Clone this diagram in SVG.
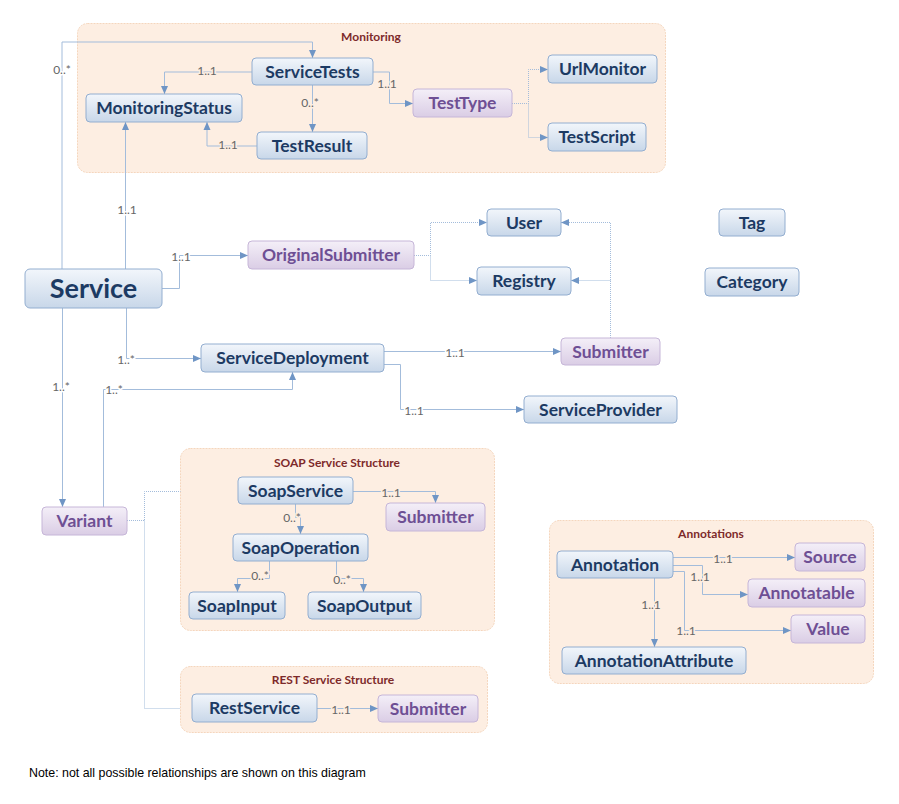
<svg xmlns="http://www.w3.org/2000/svg" width="899" height="804" viewBox="0 0 899 804">
<defs>
<linearGradient id="gb" x1="0" y1="0" x2="0" y2="1">
<stop offset="0" stop-color="#f2f6fb"/>
<stop offset="1" stop-color="#c8d7e9"/>
</linearGradient>
<linearGradient id="gp" x1="0" y1="0" x2="0" y2="1">
<stop offset="0" stop-color="#f4eff8"/>
<stop offset="1" stop-color="#dacde5"/>
</linearGradient>
<marker id="ar" viewBox="0 0 8 8" refX="8" refY="4" markerWidth="8" markerHeight="8" markerUnits="userSpaceOnUse" orient="auto">
<path d="M0,0.5 L8,4 L0,7.5 Z" fill="#6f95c5"/>
</marker>
</defs>
<style>
.cont{fill:#fdeee2;stroke:#f5d6bd;stroke-width:1;stroke-dasharray:2,1}
.ctitle{font-family:Lato,"Open Sans",sans-serif;font-size:12px;font-weight:bold;fill:#7d2a2a;text-anchor:middle}
.nb{fill:url(#gb);stroke:#93aed0;stroke-width:1}
.np{fill:url(#gp);stroke:#c6b6d8;stroke-width:1}
.tb{font-family:Lato,"Open Sans",sans-serif;font-size:17.5px;font-weight:bold;fill:#1c3a63;text-anchor:middle}
.tp{font-family:Lato,"Open Sans",sans-serif;font-size:17.5px;font-weight:bold;fill:#6e4f94;text-anchor:middle}
.big{font-size:27px}
.c{fill:none;stroke:#a3bcdb;stroke-width:1}
.d{fill:none;stroke:#a3bcdb;stroke-width:1;stroke-dasharray:1,1}
.a{marker-end:url(#ar)}
.lw{font-family:Lato,"Open Sans",sans-serif;font-size:12px;fill:#666666;text-anchor:middle;stroke:#ffffff;stroke-width:3;paint-order:stroke;stroke-linejoin:round}
.lp{font-family:Lato,"Open Sans",sans-serif;font-size:12px;fill:#666666;text-anchor:middle;stroke:#fdeee2;stroke-width:3;paint-order:stroke;stroke-linejoin:round}
.note{font-family:"Liberation Sans",Arial,sans-serif;font-size:12.4px;fill:#000000}
</style>
<rect width="899" height="804" fill="#ffffff"/>

<g id="containers">
<g id="monitoring"><rect class="cont" x="77.5" y="23.5" width="588" height="149" rx="10"/><text class="ctitle" x="371" y="41">Monitoring</text></g>
<g id="soap-structure"><rect class="cont" x="180.5" y="448.5" width="314" height="182" rx="10"/><text class="ctitle" x="337" y="467">SOAP Service Structure</text></g>
<g id="rest-structure"><rect class="cont" x="180.5" y="666.5" width="307" height="66" rx="10"/><text class="ctitle" x="333" y="684">REST Service Structure</text></g>
<g id="annotations"><rect class="cont" x="549.5" y="520.5" width="324" height="163" rx="10"/><text class="ctitle" x="711" y="538">Annotations</text></g>
</g>

<g id="connectors">
<path class="c a" d="M62,269 V42 H312.5 V58"/>
<path class="c a" d="M252,72 H164.5 V94"/>
<path class="c a" d="M312.5,85 V132"/>
<path class="c a" d="M257,146 H207 V122"/>
<path class="c a" d="M373,72 H389.5 V103.5 H413"/>
<path class="d a" d="M512,103.5 H528.5 V69.5 H548"/>
<path class="d a" d="M528.5,103.5 V137.5 H548"/>
<path class="c a" d="M125.5,269 V122"/>
<path class="c a" d="M162,288.5 H179.5 V255.5 H248"/>
<path class="d a" d="M414,255.5 H430.5 V222.5 H487"/>
<path class="d a" d="M430.5,255.5 V280.5 H477"/>
<path class="d a" d="M610.5,338 V222.5 H561"/>
<path class="d a" d="M610.5,280.5 H571"/>
<path class="c a" d="M126.5,308 V358.5 H201"/>
<path class="c a" d="M384,351.5 H561"/>
<path class="c a" d="M384,364.5 H400.5 V409.5 H524"/>
<path class="c a" d="M62.5,308 V507"/>
<path class="c a" d="M103.5,507 V389.5 H292.5 V372"/>
<path class="d" d="M127,520.5 H144.5 V491.5 H180.5"/>
<path class="d" d="M144.5,520.5 V708.5 H180.5"/>
<path class="c a" d="M353,491.5 H435.5 V503"/>
<path class="c a" d="M295.5,504 V517.5 H300.5 V534"/>
<path class="c a" d="M269.5,561 V578.5 H237.5 V592"/>
<path class="c a" d="M336.5,561 V578.5 H363.5 V592"/>
<path class="c a" d="M673,557.5 H795"/>
<path class="c a" d="M673,565.5 H702.5 V594.5 H748"/>
<path class="c a" d="M673,571.5 H684.5 V630.5 H791"/>
<path class="c a" d="M654.5,578 V647"/>
<path class="c a" d="M317,708.5 H378"/>
</g>

<g id="labels">
<text class="lw" x="62" y="74">0..*</text>
<text class="lp" x="207" y="75">1..1</text>
<text class="lp" x="310" y="107">0..*</text>
<text class="lp" x="228" y="149">1..1</text>
<text class="lp" x="387" y="88">1..1</text>
<text class="lw" x="127" y="214">1..1</text>
<text class="lw" x="181" y="261">1..1</text>
<text class="lw" x="126" y="364">1..*</text>
<text class="lw" x="455" y="357">1..1</text>
<text class="lw" x="414" y="415">1..1</text>
<text class="lw" x="61" y="391">1..*</text>
<text class="lw" x="114" y="394">1..*</text>
<text class="lp" x="391" y="497">1..1</text>
<text class="lp" x="292" y="522">0..*</text>
<text class="lp" x="260" y="580">0..*</text>
<text class="lp" x="342" y="584">0..*</text>
<text class="lp" x="723" y="563">1..1</text>
<text class="lp" x="700" y="581">1..1</text>
<text class="lp" x="686" y="635">1..1</text>
<text class="lp" x="651" y="609">1..1</text>
<text class="lp" x="341" y="714">1..1</text>
</g>

<g id="ServiceTests"><rect class="nb" x="252" y="58" width="121" height="27" rx="4"/><text class="tb" x="312.5" y="77.5">ServiceTests</text></g>
<g id="MonitoringStatus"><rect class="nb" x="86" y="94" width="156" height="28" rx="4"/><text class="tb" x="164" y="114">MonitoringStatus</text></g>
<g id="TestResult"><rect class="nb" x="257" y="132" width="110" height="27" rx="4"/><text class="tb" x="312" y="151.5">TestResult</text></g>
<g id="TestType"><rect class="np" x="413" y="89" width="99" height="28" rx="4"/><text class="tp" x="462.5" y="109">TestType</text></g>
<g id="UrlMonitor"><rect class="nb" x="548" y="55" width="109" height="28" rx="4"/><text class="tb" x="602.5" y="75">UrlMonitor</text></g>
<g id="TestScript"><rect class="nb" x="548" y="123" width="98" height="28" rx="4"/><text class="tb" x="597" y="143">TestScript</text></g>
<g id="Service"><rect class="nb" x="25" y="269" width="137" height="39" rx="5"/><text class="tb big" x="93.5" y="298">Service</text></g>
<g id="OriginalSubmitter"><rect class="np" x="248" y="241" width="166" height="28" rx="4"/><text class="tp" x="331" y="261">OriginalSubmitter</text></g>
<g id="User"><rect class="nb" x="487" y="209" width="74" height="27" rx="4"/><text class="tb" x="524" y="228.5">User</text></g>
<g id="Registry"><rect class="nb" x="477" y="267" width="94" height="28" rx="4"/><text class="tb" x="524" y="287">Registry</text></g>
<g id="Tag"><rect class="nb" x="719" y="209" width="66" height="27" rx="4"/><text class="tb" x="752" y="228.5">Tag</text></g>
<g id="Category"><rect class="nb" x="705" y="268" width="94" height="28" rx="4"/><text class="tb" x="752" y="288">Category</text></g>
<g id="ServiceDeployment"><rect class="nb" x="201" y="344" width="183" height="28" rx="4"/><text class="tb" x="292.5" y="364">ServiceDeployment</text></g>
<g id="Submitter"><rect class="np" x="561" y="338" width="99" height="27" rx="4"/><text class="tp" x="610.5" y="357.5">Submitter</text></g>
<g id="ServiceProvider"><rect class="nb" x="524" y="396" width="153" height="27" rx="4"/><text class="tb" x="600.5" y="415.5">ServiceProvider</text></g>
<g id="Variant"><rect class="np" x="42" y="507" width="85" height="28" rx="4"/><text class="tp" x="84.5" y="527">Variant</text></g>
<g id="SoapService"><rect class="nb" x="238" y="477" width="115" height="27" rx="4"/><text class="tb" x="295.5" y="496.5">SoapService</text></g>
<g id="SoapSubmitter"><rect class="np" x="386" y="503" width="99" height="28" rx="4"/><text class="tp" x="435.5" y="523">Submitter</text></g>
<g id="SoapOperation"><rect class="nb" x="233" y="534" width="135" height="27" rx="4"/><text class="tb" x="300.5" y="553.5">SoapOperation</text></g>
<g id="SoapInput"><rect class="nb" x="189" y="592" width="96" height="27" rx="4"/><text class="tb" x="237" y="611.5">SoapInput</text></g>
<g id="SoapOutput"><rect class="nb" x="308" y="592" width="113" height="27" rx="4"/><text class="tb" x="364.5" y="611.5">SoapOutput</text></g>
<g id="RestService"><rect class="nb" x="192" y="694" width="125" height="28" rx="4"/><text class="tb" x="254.5" y="714">RestService</text></g>
<g id="RestSubmitter"><rect class="np" x="378" y="695" width="100" height="27" rx="4"/><text class="tp" x="428" y="714.5">Submitter</text></g>
<g id="Annotation"><rect class="nb" x="557" y="551" width="116" height="27" rx="4"/><text class="tb" x="615" y="570.5">Annotation</text></g>
<g id="Source"><rect class="np" x="795" y="543" width="70" height="28" rx="4"/><text class="tp" x="830" y="563">Source</text></g>
<g id="Annotatable"><rect class="np" x="748" y="579" width="117" height="28" rx="4"/><text class="tp" x="806.5" y="599">Annotatable</text></g>
<g id="Value"><rect class="np" x="791" y="615" width="74" height="28" rx="4"/><text class="tp" x="828" y="635">Value</text></g>
<g id="AnnotationAttribute"><rect class="nb" x="562" y="647" width="184" height="27" rx="4"/><text class="tb" x="654" y="666.5">AnnotationAttribute</text></g>

<text class="note" x="29" y="777">Note: not all possible relationships are shown on this diagram</text>
</svg>
